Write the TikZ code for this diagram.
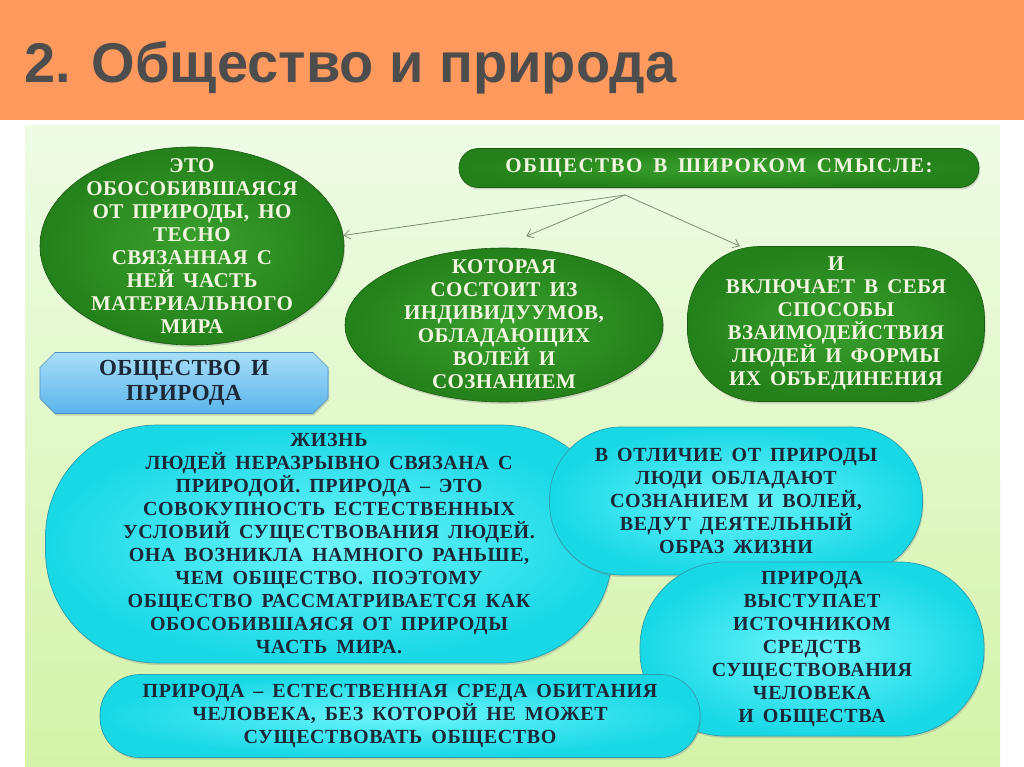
\documentclass[tikz,border=0pt]{standalone}
\usepackage{fontspec}
\usetikzlibrary{arrows.meta,shapes.geometric,shapes.misc,shadows}
\setmainfont{Liberation Serif}
\newfontfamily\titlefont{Liberation Sans}
\newfontfamily\grfont{Liberation Serif}[LetterSpace=2,WordSpace=1.6]
\newfontfamily\cyfont{Liberation Serif}[LetterSpace=3,WordSpace=1.6]
\definecolor{ffppze}{RGB}{255,153,94}
\definecolor{tdtdtd}{RGB}{77,77,77}
\definecolor{eefceu}{RGB}{238,252,230}
\definecolor{dtfrao}{RGB}{212,243,168}
\definecolor{rrpuea}{RGB}{58,160,46}
\definecolor{etoqwa}{RGB}{36,128,26}
\definecolor{wezowt}{RGB}{30,90,20}
\definecolor{fefzeq}{RGB}{242,245,224}
\definecolor{uufzfa}{RGB}{110,245,250}
\definecolor{wodoeu}{RGB}{24,216,230}
\definecolor{eepeae}{RGB}{46,158,174}
\definecolor{waeoro}{RGB}{26,40,56}
\definecolor{aodefo}{RGB}{168,222,248}
\definecolor{zabtea}{RGB}{90,180,234}
\definecolor{taofco}{RGB}{74,143,200}
\definecolor{iapqiq}{RGB}{122,144,112}
\tikzset{
  grell/.style={ellipse,draw=wezowt,line width=0.6pt,inner color=rrpuea,outer color=etoqwa,inner sep=0pt,
    drop shadow={shadow xshift=1pt,shadow yshift=-2pt,opacity=0.3}},
  grtext/.style={text=fefzeq,align=center,inner sep=0pt,font=\grfont\bfseries\fontsize{21}{23}\selectfont},
  cybox/.style={rectangle,draw=eepeae,line width=0.7pt,inner color=uufzfa,outer color=wodoeu,
    text=waeoro,align=center,inner sep=0pt,font=\cyfont\bfseries\fontsize{20}{23}\selectfont,
    drop shadow={shadow xshift=1pt,shadow yshift=-2pt,opacity=0.3}},
  arr/.style={->,color=iapqiq,line width=0.8pt}
}
\begin{document}
\begin{tikzpicture}[line cap=round,line join=round,>={Straight Barb[length=6pt,width=9pt]},x=1pt,y=-1pt]
	\useasboundingbox (0,0) rectangle (1024,767);
	\fill[white] (0,0) rectangle (1024,767);
	\fill[color=ffppze] (0,0) rectangle (1024,120);
	\node[anchor=base west,inner sep=0pt,text=tdtdtd,font=\titlefont\bfseries\fontsize{56}{60}\selectfont] (title) at (24,83) {2. Общество и природа};
	\shade[top color=eefceu,bottom color=dtfrao] (25,126) rectangle (1000,767);
	% green part
	\node[grell,grtext,minimum width=520pt,minimum height=39pt,rectangle,rounded corners=19pt,
		font=\grfont\bfseries\fontsize{21}{23}\selectfont\addfontfeatures{LetterSpace=7}] (wide) at (719,168) {ОБЩЕСТВО В ШИРОКОМ СМЫСЛЕ:};
	\node[grell,minimum width=304pt,minimum height=198pt] (part) at (192,246) {};
	\node[grtext] (parttext) at (part) {ЭТО\\ОБОСОБИВШАЯСЯ\\ОТ ПРИРОДЫ, НО\\ТЕСНО\\СВЯЗАННАЯ С\\НЕЙ ЧАСТЬ\\МАТЕРИАЛЬНОГО\\МИРА};
	\node[grell,minimum width=318pt,minimum height=154pt] (people) at (504,325) {};
	\node[grtext] (peopletext) at ([yshift=1pt]people) {КОТОРАЯ\\СОСТОИТ ИЗ\\ИНДИВИДУУМОВ,\\ОБЛАДАЮЩИХ\\ВОЛЕЙ И\\СОЗНАНИЕМ};
	\node[grell,rectangle,rounded corners=72pt,minimum width=297pt,minimum height=155pt] (ways) at (836,324) {};
	\node[grtext] (waystext) at ([yshift=1pt]ways) {И\\ВКЛЮЧАЕТ В СЕБЯ\\СПОСОБЫ\\ВЗАИМОДЕЙСТВИЯ\\ЛЮДЕЙ И ФОРМЫ\\ИХ ОБЪЕДИНЕНИЯ};
	\coordinate (fork) at (625,195);
	\draw[arr] (fork) -- (part.4);
	\draw[arr,shorten >=30pt] (fork) -- (people.94);
	\draw[arr] (fork) -- (ways.141);
	% topic
	\node[chamfered rectangle,chamfered rectangle corners=all,chamfered rectangle xsep=12pt,
		draw=taofco,line width=0.6pt,top color=aodefo,bottom color=zabtea,
		minimum width=288pt,minimum height=61pt,inner sep=0pt,align=center,text=waeoro,
		font=\cyfont\bfseries\fontsize{23}{25}\selectfont\addfontfeatures{LetterSpace=2},
		drop shadow={shadow xshift=1pt,shadow yshift=-2pt,opacity=0.3}] (topic) at (184,383)
		{ОБЩЕСТВО И\\ПРИРОДА};
	% cyan part
	\node[cybox,minimum width=567pt,minimum height=238pt,rounded corners=112pt] (life) at (329,544)
		{ЖИЗНЬ\\ЛЮДЕЙ НЕРАЗРЫВНО СВЯЗАНА С\\ПРИРОДОЙ. ПРИРОДА – ЭТО\\СОВОКУПНОСТЬ ЕСТЕСТВЕННЫХ\\УСЛОВИЙ СУЩЕСТВОВАНИЯ ЛЮДЕЙ.\\ОНА ВОЗНИКЛА НАМНОГО РАНЬШЕ,\\ЧЕМ ОБЩЕСТВО. ПОЭТОМУ\\ОБЩЕСТВО РАССМАТРИВАЕТСЯ КАК\\ОБОСОБИВШАЯСЯ ОТ ПРИРОДЫ\\ЧАСТЬ МИРА.};
	\node[cybox,minimum width=373pt,minimum height=148pt,rounded corners=72pt] (mind) at (736,501)
		{В ОТЛИЧИЕ ОТ ПРИРОДЫ\\ЛЮДИ ОБЛАДАЮТ\\СОЗНАНИЕМ И ВОЛЕЙ,\\ВЕДУТ ДЕЯТЕЛЬНЫЙ\\ОБРАЗ ЖИЗНИ};
	\node[cybox,minimum width=344pt,minimum height=174pt,rounded corners=85pt] (source) at (812,649)
		{ПРИРОДА\\ВЫСТУПАЕТ\\ИСТОЧНИКОМ\\СРЕДСТВ\\СУЩЕСТВОВАНИЯ\\ЧЕЛОВЕКА\\И ОБЩЕСТВА};
	\node[cybox,minimum width=600pt,minimum height=83pt,rounded corners=40pt] (habitat) at (400,716)
		{ПРИРОДА – ЕСТЕСТВЕННАЯ СРЕДА ОБИТАНИЯ\\ЧЕЛОВЕКА, БЕЗ КОТОРОЙ НЕ МОЖЕТ\\СУЩЕСТВОВАТЬ ОБЩЕСТВО};
\end{tikzpicture}
\end{document}
